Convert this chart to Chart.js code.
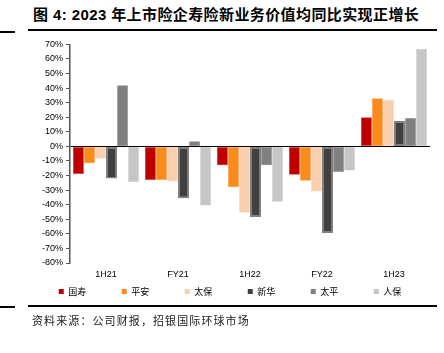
<!DOCTYPE html>
<html lang="zh">
<head>
<meta charset="UTF-8">
<title>新业务价值同比</title>
<style>
  body { margin: 0; width: 444px; height: 353px; background: #fff; position: relative; overflow: hidden; font-family: Arial, "Liberation Sans", sans-serif; }
  .title { position: absolute; left: 33px; top: 3px; font-size: 15px; font-weight: bold; font-family: "Liberation Sans", "Noto Sans CJK SC", sans-serif; color: #000; white-space: nowrap; letter-spacing: 0.4px; }
  .rule { position: absolute; height: 2px; background: #000; }
  .source { position: absolute; left: 32px; top: 312px; font-size: 11px; font-family: "Noto Sans CJK SC", sans-serif; color: #222; letter-spacing: 1.1px; }
  #wrap { position: absolute; left: -4px; top: 36px; width: 520px; height: 270px; }
</style>
</head>
<body>
  <div class="title">图 4: 2023 年上市险企寿险新业务价值均同比实现正增长</div>
  <div class="rule" style="left:0; top:31px; width:15px;"></div>
  <div class="rule" style="left:28px; top:29px; width:409px;"></div>

  <div id="wrap"><canvas id="chart"></canvas></div>

  <div class="rule" style="left:0; top:306px; width:15px;"></div>
  <div class="rule" style="left:28px; top:305px; width:409px;"></div>
  <div class="source">资料来源：公司财报，招银国际环球市场</div>

<script src="https://cdn.jsdelivr.net/npm/chart.js@4/dist/chart.umd.min.js"></script>
<script>
  const periods = ['1H21', 'FY21', '1H22', 'FY22', '1H23'];
  const insurers = ['国寿', '平安', '太保', '新华', '太平', '人保'];

  // YoY change of new business value, %
  const guoshou  = [-19, -23, -13, -19.5, 20];
  const pingan   = [-11.5, -23, -28, -23.5, 33];
  const taibao   = [-8.5, -24, -45.5, -31, 32];
  const xinhua   = [-22, -35.5, -48.5, -59.5, 17.5];
  const taiping  = [42, 3.5, -13, -17.5, 19.5];
  const renbao   = [-24.5, -40.5, -38, -16.5, 67];

  const seriesValues = [guoshou, pingan, taibao, xinhua, taiping, renbao];
  const colors = ['#C00000', '#FA8C1E', '#F9CFAF', '#404040', '#808080', '#C6C6C6'];
  const borders = ['#E04040', '#FBA04A', '#FAD8BE', '#808080', '#8A8A8A', '#D0D0D0'];

  const datasets = insurers.map((name, i) => ({
    label: name,
    data: seriesValues[i],
    backgroundColor: colors[i],
    borderColor: borders[i],
    borderWidth: i === 3 ? 1.5 : 0.5,
    borderSkipped: false,
    barPercentage: 1,
    categoryPercentage: 0.92
  }));

  new Chart(document.getElementById('chart'), {
    type: 'bar',
    data: { labels: periods, datasets: datasets },
    options: {
      responsive: true,
      maintainAspectRatio: false,
      animation: false,
      layout: { padding: { left: 34, right: 86, top: 6, bottom: 0 } },
      plugins: {
        title: { display: false },
        tooltip: { enabled: false },
        legend: {
          position: 'bottom',
          // empty title only used as a spacer above the items
          title: { display: true, text: '', font: { size: 1 }, padding: { top: 0, bottom: 4 } },
          labels: {
            boxWidth: 5,
            boxHeight: 5,
            padding: 4,
            color: '#000',
            font: { size: 9, family: '"Noto Sans CJK SC", sans-serif' },
            // wide gaps between legend items, like the original
            generateLabels: chart => Chart.defaults.plugins.legend.labels.generateLabels(chart)
              .map((l, i, all) => Object.assign(l, {
                text: i < all.length - 1 ? l.text + '\u3000\u3000\u3000\u2002' : l.text,
                lineWidth: 0
              }))
          }
        }
      },
      scales: {
        x: {
          grid: { display: false },
          border: { display: false },
          ticks: { color: '#000', font: { size: 9, family: 'Arial, "Liberation Sans"' }, padding: -2 }
        },
        y: {
          min: -80,
          max: 70,
          afterFit: s => { s.width = 40; },
          ticks: {
            stepSize: 10,
            autoSkip: false,
            color: '#000',
            padding: 3,
            font: { size: 9, family: 'Arial, "Liberation Sans"' },
            callback: v => v + '%'
          },
          grid: {
            drawOnChartArea: true,
            color: ctx => ctx.tick && ctx.tick.value === 0 ? '#000' : 'rgba(0,0,0,0)',
            tickColor: '#555',
            tickLength: 4,
            lineWidth: 1
          },
          border: { display: true, color: '#555', width: 1.5 }
        }
      }
    }
  });
</script>
</body>
</html>
